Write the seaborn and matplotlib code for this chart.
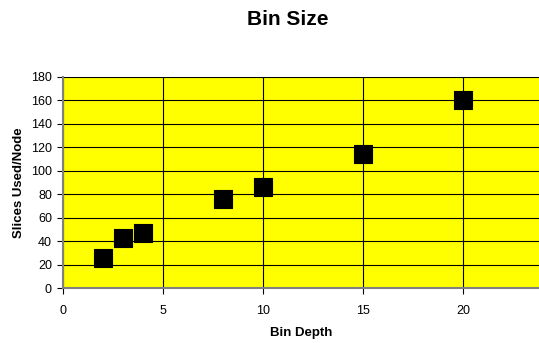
import pandas as pd
from matplotlib import pyplot as plt
import seaborn as sns

bin_depth = [2, 3, 4, 8, 10, 15, 20]
slices_per_node = [26, 43, 47, 76, 86, 114, 160]


def draw_bin_size():
    df = pd.DataFrame({"Bin Depth": bin_depth, "Slices Used/Node": slices_per_node})

    sns.set_style("white")
    plt.rcParams['font.family'] = ['Liberation Sans', 'DejaVu Sans']
    plt.rcParams['text.color'] = 'black'
    plt.rcParams['axes.labelcolor'] = 'black'

    fig = plt.figure(figsize=(5.39, 3.43), dpi=100)
    ax = fig.add_axes([0.117, 0.160, 0.883, 0.616])
    ax.set_facecolor("#ffff00")

    sns.scatterplot(data=df, x="Bin Depth", y="Slices Used/Node", marker="s",
                    s=150, color="black", edgecolor="black", linewidth=0.8,
                    ax=ax, zorder=3)

    ax.set_xlim(0, 23.8)
    ax.set_ylim(0, 180)
    ax.set_xticks([0, 5, 10, 15, 20])
    ax.set_yticks(range(0, 181, 20))
    ax.grid(True, color="black", linewidth=0.8)
    ax.set_axisbelow(True)
    for side in ["top", "right"]:
        ax.spines[side].set_visible(False)
    for side in ["left", "bottom"]:
        ax.spines[side].set_color("#808080")
        ax.spines[side].set_linewidth(1.5)
    ax.tick_params(axis="both", direction="out", length=4, width=0.8,
                   colors="black", labelsize=9, bottom=True, left=True)
    ax.tick_params(axis="x", pad=8)
    ax.tick_params(axis="y", pad=4)

    ax.set_xlabel("Bin Depth", fontsize=9.5, fontweight="bold", labelpad=7)
    ax.set_ylabel("Slices Used/Node", fontsize=9.5, fontweight="bold", labelpad=4)
    fig.suptitle("Bin Size", fontsize=15, fontweight="bold", x=0.534, y=0.97)

    plt.savefig("out.png", dpi=100)


draw_bin_size()
